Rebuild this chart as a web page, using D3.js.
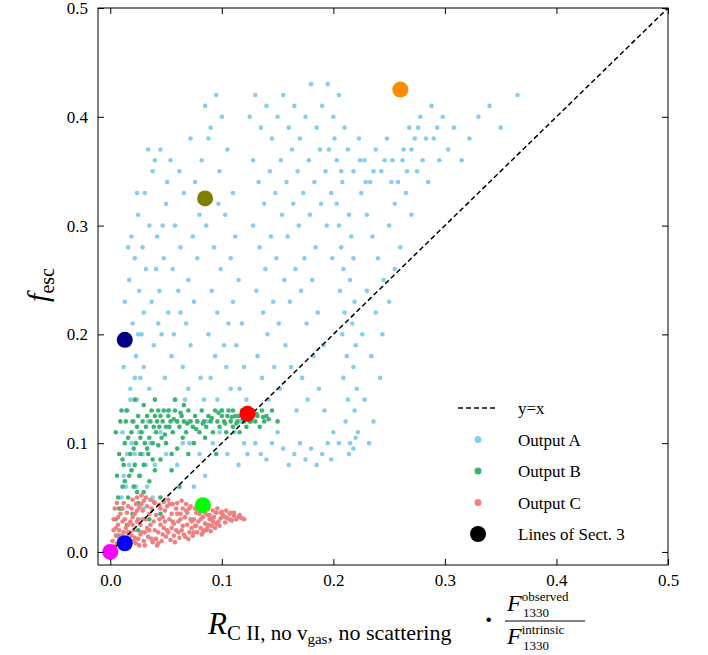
<!DOCTYPE html>
<html><head><meta charset="utf-8">
<script src="https://cdn.jsdelivr.net/npm/d3@7"></script>
<style>body{margin:0;background:#fff}text{font-family:"Liberation Serif","DejaVu Serif",serif}</style>
</head><body><svg id="c" width="708" height="655"></svg>
<script>
// scatter samples, "x,y" pairs
let outputA = `0.010,0.05 0.012,0.07 0.015,0.09 0.011,0.11 0.014,0.13 0.018,0.15 0.012,0.17 0.016,0.19 0.020,0.21 0.013,0.23 0.017,0.25 0.022,0.27 0.019,0.29 0.025,0.31 0.021,0.12 0.024,0.14 0.027,0.16 0.023,0.18 0.028,0.20 0.030,0.22 0.026,0.24 0.032,0.26 0.029,0.28 0.035,0.30 0.031,0.33 0.038,0.35 0.034,0.37 0.040,0.36 0.045,0.37 0.050,0.32 0.042,0.29 0.048,0.27 0.044,0.24 0.052,0.22 0.046,0.20 0.055,0.18 0.049,0.16 0.058,0.14 0.053,0.13 0.036,0.10 0.040,0.08 0.033,0.06 0.038,0.05 0.030,0.04 0.027,0.07 0.022,0.09 0.045,0.11 0.050,0.09 0.060,0.08 0.065,0.10 0.060,0.12 0.070,0.15 0.065,0.17 0.072,0.19 0.068,0.21 0.075,0.23 0.070,0.25 0.078,0.27 0.074,0.29 0.080,0.31 0.076,0.34 0.082,0.36 0.088,0.38 0.085,0.41 0.090,0.39 0.095,0.42 0.100,0.40 0.105,0.37 0.098,0.35 0.110,0.33 0.103,0.31 0.112,0.29 0.108,0.27 0.115,0.25 0.110,0.23 0.118,0.21 0.113,0.19 0.120,0.17 0.116,0.15 0.122,0.14 0.090,0.16 0.094,0.18 0.088,0.20 0.096,0.22 0.091,0.24 0.099,0.26 0.093,0.28 0.086,0.30 0.097,0.32 0.062,0.35 0.066,0.33 0.058,0.30 0.063,0.28 0.056,0.26 0.061,0.24 0.054,0.36 0.072,0.38 0.125,0.40 0.130,0.42 0.135,0.39 0.140,0.41 0.145,0.38 0.150,0.40 0.155,0.42 0.160,0.39 0.165,0.41 0.170,0.38 0.175,0.40 0.180,0.43 0.185,0.39 0.190,0.41 0.195,0.43 0.200,0.40 0.205,0.42 0.210,0.39 0.128,0.36 0.133,0.34 0.138,0.32 0.143,0.35 0.148,0.33 0.153,0.36 0.158,0.34 0.163,0.37 0.168,0.35 0.173,0.33 0.178,0.36 0.183,0.34 0.188,0.37 0.193,0.35 0.198,0.33 0.203,0.36 0.208,0.34 0.213,0.37 0.218,0.35 0.223,0.38 0.228,0.36 0.233,0.34 0.238,0.37 0.243,0.35 0.248,0.38 0.253,0.36 0.258,0.34 0.263,0.37 0.268,0.39 0.273,0.38 0.278,0.40 0.283,0.38 0.288,0.41 0.293,0.39 0.298,0.40 0.303,0.37 0.308,0.39 0.315,0.36 0.322,0.38 0.330,0.40 0.340,0.41 0.350,0.39 0.365,0.42 0.128,0.30 0.134,0.28 0.139,0.26 0.144,0.29 0.149,0.27 0.154,0.31 0.159,0.29 0.164,0.32 0.169,0.30 0.174,0.27 0.179,0.31 0.184,0.28 0.189,0.32 0.194,0.30 0.199,0.27 0.131,0.24 0.137,0.22 0.141,0.20 0.146,0.23 0.151,0.21 0.156,0.25 0.161,0.23 0.166,0.26 0.171,0.24 0.176,0.21 0.181,0.25 0.186,0.22 0.191,0.19 0.132,0.18 0.136,0.16 0.142,0.14 0.147,0.17 0.152,0.15 0.157,0.19 0.162,0.17 0.167,0.13 0.172,0.16 0.177,0.14 0.182,0.18 0.187,0.15 0.192,0.13 0.203,0.32 0.205,0.30 0.207,0.28 0.209,0.26 0.206,0.24 0.210,0.22 0.208,0.20 0.212,0.18 0.209,0.16 0.213,0.14 0.211,0.12 0.215,0.10 0.214,0.31 0.216,0.29 0.218,0.27 0.215,0.25 0.219,0.23 0.217,0.21 0.220,0.19 0.218,0.17 0.221,0.15 0.219,0.13 0.222,0.11 0.220,0.105 0.200,0.11 0.195,0.10 0.190,0.09 0.185,0.08 0.180,0.095 0.175,0.085 0.170,0.10 0.165,0.09 0.160,0.08 0.155,0.095 0.150,0.11 0.145,0.10 0.140,0.085 0.135,0.09 0.130,0.10 0.225,0.33 0.230,0.31 0.235,0.29 0.240,0.27 0.245,0.25 0.250,0.30 0.255,0.32 0.260,0.28 0.265,0.33 0.270,0.31 0.275,0.35 0.285,0.34 0.295,0.36 0.230,0.24 0.238,0.22 0.226,0.20 0.234,0.18 0.242,0.16 0.228,0.14 0.236,0.12 0.232,0.10 0.244,0.20 0.250,0.23 0.255,0.26 0.115,0.08 0.120,0.10 0.105,0.09 0.098,0.11 0.085,0.07 0.080,0.09 0.075,0.06 0.070,0.12 0.100,0.13 0.108,0.15 0.104,0.17 0.102,0.19 0.106,0.21 0.084,0.14 0.078,0.12 0.014,0.06 0.017,0.08 0.019,0.10 0.023,0.06 0.026,0.11 0.029,0.09 0.032,0.08 0.034,0.12 0.018,0.14 0.022,0.16 0.025,0.20 0.014,0.20 0.016,0.28 0.024,0.33 0.030,0.17 0.035,0.15 0.039,0.19 0.043,0.21 0.037,0.23 0.041,0.26 0.047,0.30 0.051,0.34 0.057,0.20 0.063,0.22 0.067,0.14 0.071,0.10 0.081,0.16 0.087,0.12 0.092,0.10 0.096,0.14 0.111,0.11 0.117,0.12 0.123,0.09 0.196,0.37 0.201,0.38 0.207,0.35 0.224,0.36 0.229,0.34 0.236,0.35 0.246,0.36 0.252,0.34 0.262,0.36 0.270,0.37 0.280,0.36 0.290,0.38 0.276,0.39 0.266,0.35 0.214,0.09 0.218,0.095 0.205,0.10 0.198,0.085`;
let outputB = `0.005,0.03 0.007,0.05 0.006,0.07 0.008,0.09 0.005,0.11 0.009,0.12 0.010,0.04 0.011,0.06 0.012,0.08 0.013,0.10 0.014,0.12 0.015,0.13 0.016,0.05 0.017,0.07 0.018,0.09 0.019,0.11 0.020,0.12 0.021,0.06 0.022,0.08 0.023,0.10 0.024,0.115 0.025,0.125 0.026,0.07 0.027,0.09 0.028,0.11 0.029,0.12 0.030,0.08 0.031,0.10 0.032,0.115 0.033,0.125 0.034,0.09 0.035,0.105 0.036,0.12 0.037,0.13 0.038,0.10 0.039,0.115 0.040,0.125 0.041,0.11 0.042,0.12 0.043,0.13 0.044,0.115 0.045,0.125 0.046,0.105 0.047,0.12 0.048,0.13 0.050,0.115 0.052,0.125 0.054,0.12 0.056,0.11 0.058,0.13 0.060,0.12 0.062,0.115 0.064,0.125 0.066,0.12 0.068,0.11 0.070,0.13 0.072,0.12 0.074,0.115 0.076,0.125 0.078,0.12 0.080,0.11 0.082,0.13 0.084,0.12 0.086,0.115 0.088,0.125 0.090,0.12 0.092,0.11 0.094,0.13 0.096,0.12 0.098,0.115 0.100,0.125 0.102,0.12 0.104,0.11 0.106,0.13 0.108,0.12 0.110,0.115 0.112,0.125 0.114,0.12 0.116,0.11 0.118,0.13 0.120,0.12 0.122,0.115 0.124,0.125 0.126,0.12 0.128,0.13 0.130,0.12 0.132,0.125 0.134,0.115 0.136,0.13 0.138,0.12 0.140,0.125 0.145,0.13 0.150,0.12 0.100,0.13 0.105,0.125 0.110,0.13 0.115,0.125 0.050,0.10 0.055,0.09 0.060,0.095 0.045,0.085 0.040,0.075 0.035,0.065 0.030,0.055 0.025,0.045 0.065,0.105 0.070,0.09 0.075,0.10 0.085,0.105 0.095,0.09 0.055,0.075 0.062,0.06 0.045,0.05 0.052,0.13 0.058,0.14 0.066,0.135 0.040,0.14 0.030,0.135 0.022,0.14 0.010,0.13 0.007,0.015 0.015,0.025 0.020,0.035 0.035,0.03 0.045,0.035 0.025,0.02 0.008,0.04 0.011,0.085 0.013,0.065 0.016,0.105 0.019,0.075 0.021,0.095 0.024,0.055 0.027,0.105 0.033,0.095 0.038,0.085 0.043,0.098 0.049,0.108 0.053,0.115 0.057,0.122 0.063,0.128 0.069,0.118 0.077,0.113 0.083,0.118 0.091,0.123 0.097,0.128 0.103,0.118 0.109,0.124 0.113,0.118 0.119,0.122 0.125,0.12 0.131,0.127 0.137,0.124 0.142,0.122`;
let outputC = `0.002,0.002 0.004,0.005 0.006,0.008 0.008,0.012 0.010,0.015 0.012,0.018 0.014,0.022 0.016,0.025 0.018,0.028 0.020,0.032 0.022,0.035 0.024,0.038 0.026,0.041 0.028,0.044 0.030,0.047 0.005,0.015 0.007,0.025 0.009,0.035 0.011,0.04 0.013,0.03 0.015,0.01 0.017,0.005 0.019,0.015 0.021,0.02 0.023,0.008 0.025,0.012 0.027,0.025 0.029,0.03 0.031,0.018 0.033,0.022 0.035,0.035 0.037,0.04 0.039,0.028 0.041,0.012 0.043,0.018 0.045,0.025 0.047,0.032 0.049,0.038 0.051,0.042 0.053,0.03 0.055,0.022 0.057,0.015 0.059,0.02 0.061,0.028 0.063,0.035 0.065,0.04 0.067,0.032 0.069,0.025 0.071,0.018 0.073,0.022 0.075,0.03 0.077,0.036 0.079,0.028 0.081,0.022 0.083,0.032 0.085,0.026 0.087,0.034 0.089,0.03 0.091,0.024 0.093,0.032 0.095,0.036 0.097,0.028 0.099,0.031 0.101,0.034 0.103,0.027 0.105,0.031 0.107,0.035 0.109,0.029 0.111,0.033 0.113,0.03 0.115,0.032 0.118,0.031 0.120,0.03 0.010,0.005 0.014,0.008 0.018,0.01 0.022,0.013 0.026,0.006 0.030,0.01 0.034,0.014 0.038,0.009 0.042,0.006 0.046,0.01 0.050,0.014 0.054,0.011 0.058,0.009 0.062,0.013 0.066,0.016 0.070,0.012 0.074,0.015 0.078,0.018 0.082,0.016 0.086,0.02 0.090,0.019 0.094,0.022 0.098,0.024 0.003,0.03 0.004,0.04 0.006,0.045 0.008,0.02 0.012,0.045 0.016,0.042 0.020,0.048 0.024,0.05 0.028,0.052 0.032,0.05 0.036,0.048 0.040,0.045 0.044,0.043 0.048,0.046 0.052,0.048 0.056,0.044 0.060,0.045 0.064,0.047 0.068,0.044 0.072,0.042 0.076,0.04 0.080,0.042 0.084,0.039 0.088,0.04 0.092,0.038 0.096,0.04 0.100,0.037 0.104,0.038 0.108,0.036 0.040,0.02 0.044,0.03 0.048,0.022 0.052,0.018 0.056,0.028 0.060,0.035 0.064,0.02 0.068,0.038 0.072,0.03 0.076,0.024 0.080,0.035 0.084,0.02 0.088,0.025 0.092,0.028 0.012,0.012 0.016,0.018 0.020,0.025 0.024,0.028 0.028,0.018 0.032,0.03 0.036,0.025 0.002,0.01 0.003,0.02 0.005,0.022 0.007,0.032 0.009,0.01 0.011,0.028 0.013,0.008 0.015,0.036 0.017,0.018 0.019,0.04 0.021,0.01 0.023,0.044 0.025,0.03 0.027,0.016 0.029,0.038 0.031,0.006 0.033,0.042 0.035,0.02 0.037,0.012 0.039,0.046 0.041,0.034 0.043,0.008 0.045,0.04 0.047,0.016 0.049,0.028 0.051,0.02 0.053,0.044 0.055,0.035 0.057,0.026 0.059,0.04 0.061,0.018 0.063,0.03 0.065,0.024 0.067,0.014 0.069,0.036 0.071,0.04 0.073,0.028 0.075,0.018 0.077,0.024 0.079,0.038 0.081,0.03 0.083,0.018 0.085,0.036 0.087,0.022 0.089,0.034 0.091,0.03 0.095,0.026 0.099,0.036 0.103,0.032 0.107,0.03 0.111,0.036 0.116,0.034`;
let sectLines = [[0.0,0.0,"#ff00ff"],[0.013,0.008,"#0000ff"],[0.013,0.195,"#000080"],[0.083,0.043,"#00ff00"],[0.123,0.127,"#ff0000"],[0.085,0.325,"#808000"],[0.26,0.425,"#ff8c00"]];
let xTicks = [0,0.1,0.2,0.3,0.4,0.5];
let yTicks = [0,0.1,0.2,0.3,0.4,0.5];

let parse = s => s.trim().split(/\s+/).map(p => p.split(',').map(Number));

let svg = d3.select('#c');
let x = d3.scaleLinear().domain([-0.011, 0.5]).range([98, 668]);
let y = d3.scaleLinear().domain([-0.012, 0.5]).range([565, 8]);

let plot = svg.append('g');
let series = [[outputA,'#87ceeb'],[outputB,'#3cb371'],[outputC,'#f08080']];
series.forEach(([s,c]) => {
  plot.selectAll(null).data(parse(s)).enter().append('circle')
    .attr('cx', d => x(d[0])).attr('cy', d => y(d[1])).attr('r', 2.3).attr('fill', c);
});
plot.append('line').attr('x1', x(0)).attr('y1', y(0)).attr('x2', x(0.5)).attr('y2', y(0.5))
  .attr('stroke', '#000').attr('stroke-width', 1.5).attr('stroke-dasharray', '5,3');
plot.selectAll(null).data(sectLines).enter().append('circle')
  .attr('cx', d => x(d[0])).attr('cy', d => y(d[1])).attr('r', 8).attr('fill', d => d[2]);

svg.append('rect').attr('x', 98).attr('y', 8).attr('width', 570).attr('height', 557)
  .attr('fill', 'none').attr('stroke', '#000').attr('stroke-width', 1);

let tk = (g, ax) => g.call(ax).call(g => g.select('.domain').remove())
  .call(g => g.selectAll('text').style('font-size', '17px').attr('font-family', 'Liberation Serif'));
svg.append('g').attr('transform', 'translate(0,565)')
  .call(g => tk(g, d3.axisBottom(x).tickValues(xTicks).tickSize(-6).tickPadding(9).tickFormat(d3.format('.1f'))));
svg.append('g').attr('transform', 'translate(0,8)')
  .call(g => tk(g, d3.axisTop(x).tickValues(xTicks).tickSize(-6).tickFormat('')));
svg.append('g').attr('transform', 'translate(98,0)')
  .call(g => tk(g, d3.axisLeft(y).tickValues(yTicks).tickSize(-6).tickPadding(10).tickFormat(d3.format('.1f'))));
svg.append('g').attr('transform', 'translate(668,0)')
  .call(g => tk(g, d3.axisRight(y).tickValues(yTicks).tickSize(-6).tickFormat('')));

// y label
let yl = svg.append('text').attr('transform', 'translate(48,285) rotate(-90)').attr('text-anchor', 'middle');
yl.append('tspan').text('f').attr('font-style', 'italic').style('font-size', '30px');
yl.append('tspan').text('esc').style('font-size', '20px').attr('dy', 6);

// x label
let xl = svg.append('text').attr('x', 208).attr('y', 634);
xl.append('tspan').text('R').attr('font-style', 'italic').style('font-size', '31px');
xl.append('tspan').text('C II').style('font-size', '21px').attr('dy', 6);
xl.append('tspan').text(', no v').style('font-size', '21px');
xl.append('tspan').text('gas').style('font-size', '15px').attr('dy', 4);
xl.append('tspan').text(', no scattering').style('font-size', '22px').attr('dy', -4);
svg.append('text').attr('x', 484).attr('y', 629).text('·').style('font-size', '28px').style('font-weight', 'bold');
let fx = 505;
svg.append('line').attr('x1', fx).attr('x2', fx + 80).attr('y1', 621).attr('y2', 621).attr('stroke', '#000');
let num = svg.append('text').attr('x', fx + 2).attr('y', 611);
num.append('tspan').text('F').attr('font-style', 'italic').style('font-size', '24px');
num.append('tspan').text('observed').style('font-size', '13px').attr('dy', -10);
num.append('tspan').text('1330').style('font-size', '13px').attr('x', fx + 18).attr('dy', 16);
let den = svg.append('text').attr('x', fx + 2).attr('y', 644);
den.append('tspan').text('F').attr('font-style', 'italic').style('font-size', '24px');
den.append('tspan').text('intrinsic').style('font-size', '13px').attr('dy', -10);
den.append('tspan').text('1330').style('font-size', '13px').attr('x', fx + 18).attr('dy', 16);

// legend
let legend = [['y=x', null], ['Output A', '#87ceeb'], ['Output B', '#3cb371'], ['Output C', '#f08080'], ['Lines of Sect. 3', '#000']];
let lg = svg.append('g').attr('transform', 'translate(458,408)');
legend.forEach(([t, c], i) => {
  let gy = i * 31.5;
  if (c === null) lg.append('line').attr('x1', 0).attr('x2', 40).attr('y1', gy).attr('y2', gy)
    .attr('stroke', '#000').attr('stroke-width', 1.5).attr('stroke-dasharray', '5,3');
  else lg.append('circle').attr('cx', 20).attr('cy', gy).attr('r', i === 4 ? 8 : 3.5).attr('fill', c);
  lg.append('text').attr('x', 60).attr('y', gy + 6).text(t).style('font-size', '17px');
});
</script></body></html>
